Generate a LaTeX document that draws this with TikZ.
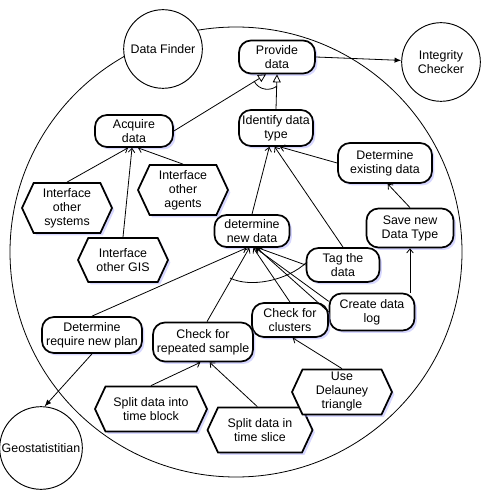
\documentclass[tikz,border=0pt]{standalone}
\usepackage{fontspec}
\setmainfont{Liberation Sans}
\usetikzlibrary{shapes.symbols,shadows,arrows.meta,calc}
\begin{document}
\begin{tikzpicture}[x=0.75pt,y=-0.75pt,
  font=\fontsize{9.3}{10.5}\selectfont,
  shad/.style={drop shadow={shadow xshift=1.8pt,shadow yshift=-1.8pt,fill=blue!35!white,opacity=0.45}},
  uc/.style={draw,line width=1.3pt,rounded corners=9pt,fill=white,align=center,inner sep=0pt,shad},
  hexa/.style={draw,line width=1.3pt,signal,signal to=east and west,signal pointer angle=130,fill=white,align=center,inner sep=0pt,shad},
  actor/.style={draw,circle,line width=0.7pt,fill=white,inner sep=0pt,align=center},
  sz/.style 2 args={minimum width=#1*0.75pt,minimum height=#2*0.75pt},
  gen/.style={-{Triangle[open,length=6pt,width=6pt]},line width=0.6pt},
  dep/.style={-{Straight Barb[length=3pt,width=5pt]},line width=0.6pt},
  msg/.style={-{Latex[length=5pt,width=4pt]},line width=0.6pt},
  ln/.style={line width=0.6pt}
]
\useasboundingbox (0,0) rectangle (480,498);
% system boundary
\draw[ln] (236,252) ellipse [x radius=169.5pt, y radius=168.75pt];

% actors
\node[actor,minimum size=59pt] (df) at (163,49) {Data Finder};
\node[actor,minimum size=59pt] (ic) at (441,62) {Integrity\\Checker};
\node[actor,minimum size=62pt] (geo) at (41,448) {Geostatistitian};

% use cases
\node[uc,sz={76}{33}] (prov) at (277,57) {Provide\\data};
\node[uc,sz={74}{36}] (idt) at (276,128) {Identify data\\type};
\node[uc,sz={78}{32}] (acq) at (134,131) {Acquire\\data};
\node[uc,sz={94}{40}] (dex) at (385,163) {Determine\\existing data};
\node[uc,sz={87}{39}] (save) at (410,228) {Save new\\Data Type};
\node[uc,sz={75}{32}] (dnd) at (252,231) {determine\\new data};
\node[uc,sz={73}{34}] (tag) at (343,265) {Tag the\\data};
\node[uc,sz={85}{37}] (log) at (372,312) {Create data\\log};
\node[uc,sz={76}{34}] (clus) at (290,320) {Check for\\clusters};
\node[uc,sz={100}{39}] (rep) at (203,342) {Check for\\repeated sample};
\node[uc,sz={100}{36}] (plan) at (92,335) {Determine\\require new plan};

% hexagons
\node[hexa,sz={90}{50}] (sys) at (67,208) {Interface\\other\\systems};
\node[hexa,sz={90}{50}] (agents) at (183,190) {Interface\\other\\agents};
\node[hexa,sz={90}{44}] (gis) at (123,260) {Interface\\other GIS};
\node[hexa,sz={112}{45}] (block) at (151,409) {Split data into\\time block};
\node[hexa,sz={105}{45}] (slice) at (260,430) {Split data in\\time slice};
\node[hexa,sz={100}{45}] (del) at (342,392) {Use\\Delauney\\triangle};

% generalizations
\draw[gen] (acq.east) -- ([xshift=-8.25pt]prov.south);
\draw[gen] (idt.north) -- (prov.south);
\draw[ln] (254,81) .. controls (259,91) and (271,91) .. (277,86);

% includes / dependencies
\draw[dep] (sys.north) -- ([xshift=-4.5pt]acq.south);
\draw[dep] (gis.north) -- ([xshift=-1.5pt]acq.south);
\draw[dep] (agents.north) -- ([xshift=3pt]acq.south);

\draw[dep] (dnd.north) -- ([xshift=-5pt]idt.south);
\draw[dep] (tag.north) -- ([xshift=-1pt]idt.south);
\draw[dep] (dex.west) -- ([xshift=3pt]idt.south);

\draw[dep] (save.north) -- ([xshift=2pt]dex.south);
\draw[dep] (log.north -| save.south) -- (save.south);

\draw[dep] (plan.north) -- ([xshift=-4pt]dnd.south);
\draw[dep] ([xshift=3pt]rep.north) -- ([xshift=-2pt]dnd.south);
\draw[dep] (clus.north) -- ([xshift=1pt]dnd.south);
\draw[dep] ([yshift=8pt]log.west) -- ([xshift=2.5pt]dnd.south);
\draw[dep] (log.west) -- ([xshift=3.5pt]dnd.south);
\draw[dep] (tag.west) -- ([xshift=4.5pt]dnd.south);
\draw[ln] (230,278) .. controls (250,288) and (287,281) .. (307,262);

\draw[dep] (block.north) -- ([xshift=-2pt]rep.south);
\draw[dep] ([xshift=-2pt]slice.north) -- ([xshift=5pt]rep.south);
\draw[dep] (del.north) -- ([xshift=2pt]clus.south);

% associations with actors
\draw[msg] (prov.east) -- (ic);
\draw[msg] (plan.south) -- (geo.85);
\end{tikzpicture}
\end{document}
